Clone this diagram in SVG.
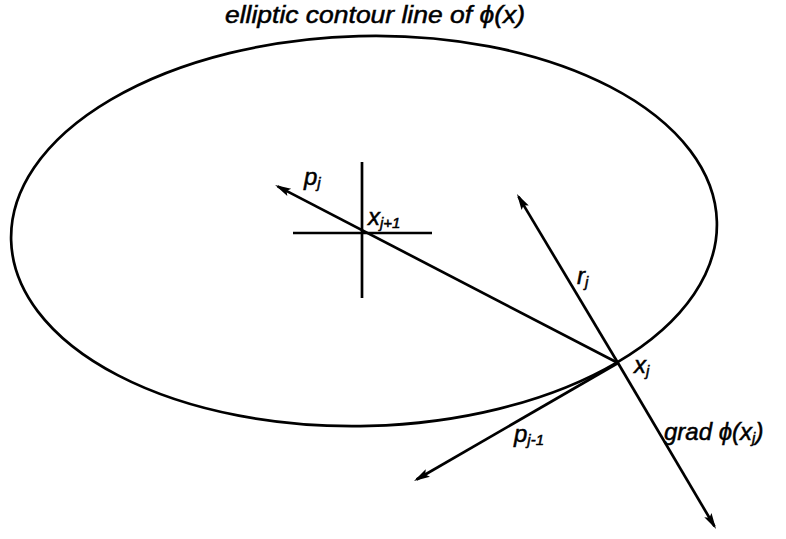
<svg xmlns="http://www.w3.org/2000/svg" width="786" height="539" viewBox="0 0 786 539">
  <style>
    .ln { fill: none; stroke: #000; stroke-width: 2.7; }
    .lbl { font-family: "Liberation Sans", Arial, sans-serif; font-style: italic; font-size: 24px; fill: #000; stroke: #000; stroke-width: 0.5; }
    .sub { font-size: 15px; }
  </style>
  <defs>
    <marker id="arr" markerUnits="userSpaceOnUse" markerWidth="18" markerHeight="12" viewBox="0 -6 18 12" refX="13" refY="0" orient="auto">
      <path d="M0,-4.2 L16,0 L0,4.2 L3,0 Z" fill="#000"/>
    </marker>
  </defs>
  <rect width="786" height="539" fill="#fff"/>

  <g id="title">
    <text class="lbl" x="225" y="23" textLength="300" lengthAdjust="spacingAndGlyphs">elliptic contour line of ϕ(x)</text>
  </g>

  <g id="contour">
    <ellipse class="ln" cx="364" cy="231" rx="353" ry="195" transform="rotate(-1.5 364 231)"/>
  </g>

  <g id="x_j1">
    <line class="ln" x1="362" y1="162" x2="362" y2="298"/>
    <line class="ln" x1="293" y1="233" x2="432" y2="233"/>
    <text class="lbl" x="368" y="225">x<tspan class="sub" dy="3">j+1</tspan></text>
  </g>

  <g id="x_j">
    <text class="lbl" x="634" y="373">x<tspan class="sub" dy="3">j</tspan></text>
  </g>

  <g id="connectors">
    <line id="p_j" class="ln" x1="618" y1="363" x2="277.7" y2="186.4" marker-end="url(#arr)"/>
    <line id="r_j" class="ln" x1="618" y1="363" x2="518.5" y2="196.6" marker-end="url(#arr)"/>
    <line id="grad" class="ln" x1="618" y1="363" x2="714.5" y2="526.4" marker-end="url(#arr)"/>
    <line id="p_j-1" class="ln" x1="618" y1="363" x2="416.6" y2="479.5" marker-end="url(#arr)"/>
  </g>

  <g id="labels">
    <text class="lbl" x="304" y="185">p<tspan class="sub" dy="3">j</tspan></text>
    <text class="lbl" x="577" y="284">r<tspan class="sub" dy="3">j</tspan></text>
    <text class="lbl" x="514" y="442">p<tspan class="sub" dy="3">j-1</tspan></text>
    <text class="lbl" x="664" y="440">grad ϕ(x<tspan class="sub" dy="3">j</tspan><tspan dy="-3">)</tspan></text>
  </g>
</svg>
